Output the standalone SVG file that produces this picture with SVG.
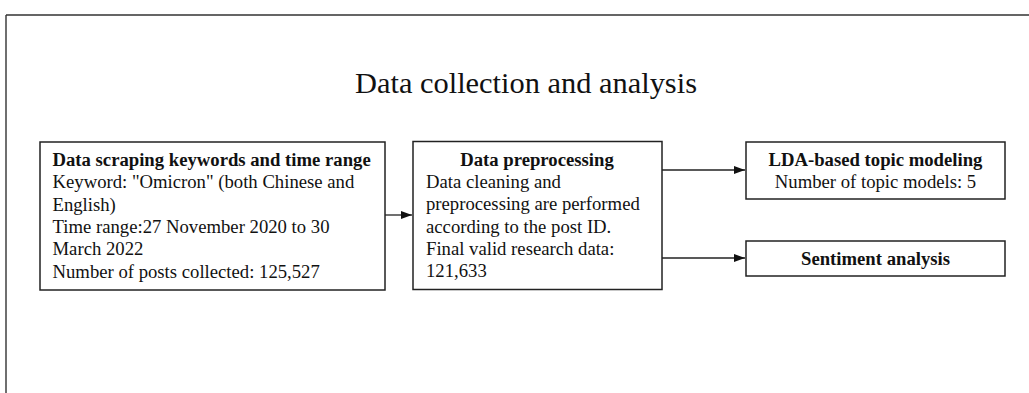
<svg xmlns="http://www.w3.org/2000/svg" width="1029" height="393" viewBox="0 0 1029 393">
<style>
.box{fill:#fff;stroke:#222;stroke-width:1.5}
.t{font-family:"Liberation Serif","Times New Roman",serif;font-size:18.7px;fill:#111}
.b{font-weight:bold}
.c{text-anchor:middle}
.con{stroke:#222;stroke-width:1.3;fill:none;marker-end:url(#ah)}
</style>
<defs>
<marker id="ah" viewBox="0 0 10 10" refX="10" refY="5" markerWidth="11" markerHeight="8" markerUnits="userSpaceOnUse" orient="auto" preserveAspectRatio="none">
<path d="M0,0 L10,5 L0,10 Z" fill="#111"/>
</marker>
</defs>
<rect width="1029" height="393" fill="#fff"/>
<g id="frame">
<path d="M6,15 H1029 M6,15 V393" stroke="#333" stroke-width="1.4" fill="none"/>
</g>
<g id="title">
<text x="526" y="93" class="t c" style="font-size:30px" textLength="342" lengthAdjust="spacingAndGlyphs">Data collection and analysis</text>
</g>
<g id="connectors">
<path class="con" d="M385,215 H412"/>
<path class="con" d="M662,170 H745"/>
<path class="con" d="M662,258 H745"/>
</g>
<g id="node-scraping">
<rect class="box" x="40" y="142" width="345" height="148"/>
<text class="t b" x="52.5" y="166">Data scraping keywords and time range</text>
<text class="t" x="52.5" y="188.3">Keyword: "Omicron" (both Chinese and</text>
<text class="t" x="52.5" y="210.7">English)</text>
<text class="t" x="52.5" y="233">Time range:27 November 2020 to 30</text>
<text class="t" x="52.5" y="255.3">March 2022</text>
<text class="t" x="52.5" y="277.7">Number of posts collected: 125,527</text>
</g>
<g id="node-preprocessing">
<rect class="box" x="413" y="141.5" width="249" height="148"/>
<text class="t b c" x="537" y="166">Data preprocessing</text>
<text class="t" x="426" y="188">Data cleaning and</text>
<text class="t" x="426" y="210.3">preprocessing are performed</text>
<text class="t" x="426" y="232.6">according to the post ID.</text>
<text class="t" x="426" y="254.9">Final valid research data:</text>
<text class="t" x="426" y="277.2">121,633</text>
</g>
<g id="node-lda">
<rect class="box" x="746" y="142" width="259" height="57"/>
<text class="t b c" x="875.5" y="166">LDA-based topic modeling</text>
<text class="t c" x="875.5" y="188">Number of topic models: 5</text>
</g>
<g id="node-sentiment">
<rect class="box" x="746" y="241" width="259" height="35"/>
<text class="t b c" x="875.5" y="265">Sentiment analysis</text>
</g>
</svg>
